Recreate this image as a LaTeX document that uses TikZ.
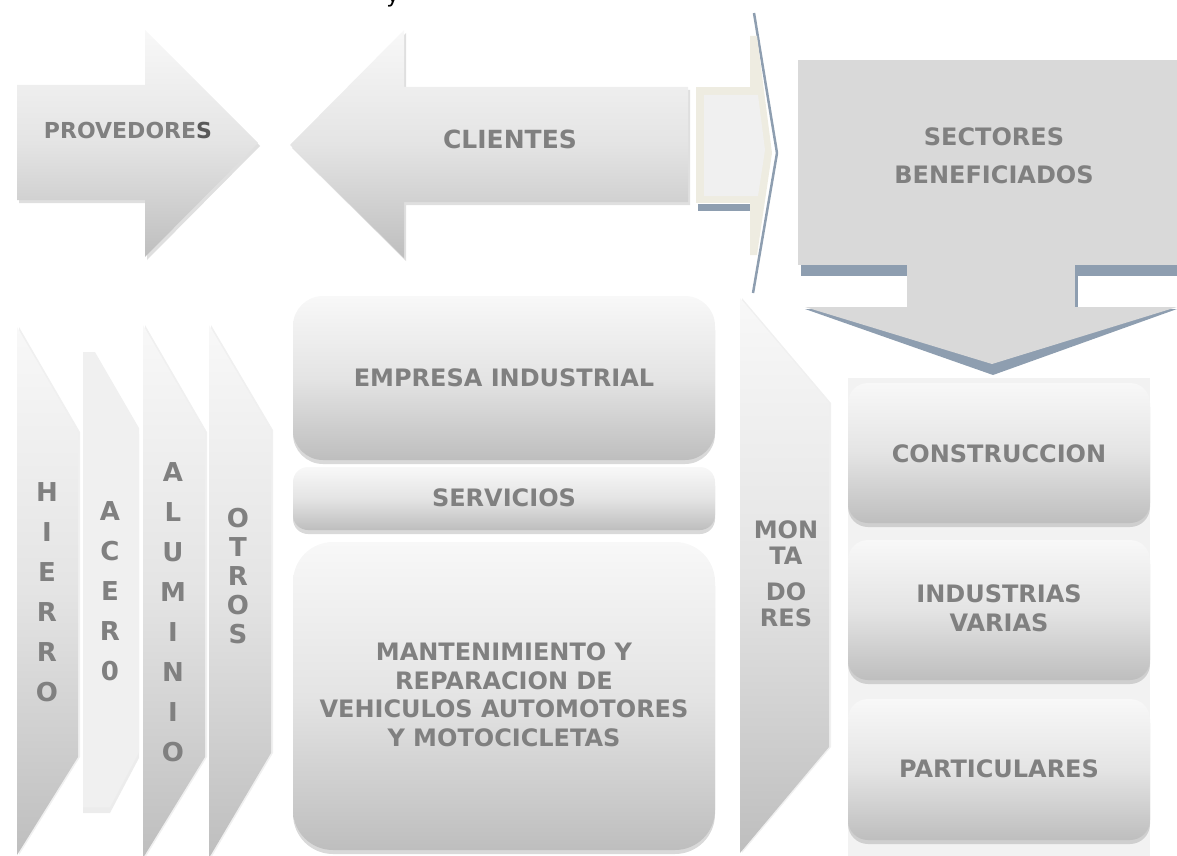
\documentclass[tikz,border=0pt]{standalone}
\usepackage{fontspec}
\setmainfont{DejaVu Sans}
\usetikzlibrary{shadows}
\definecolor{txtgray}{RGB}{128,128,128}
\definecolor{txtdark}{RGB}{89,89,89}
\definecolor{slate}{RGB}{142,158,176}
\definecolor{sectgray}{RGB}{217,217,217}
\definecolor{beige}{RGB}{238,236,225}
\definecolor{lightbg}{RGB}{242,242,242}
\definecolor{shtop}{RGB}{248,248,248}
\definecolor{shmid}{RGB}{228,228,228}
\definecolor{shbot}{RGB}{190,190,190}

\begin{document}
\begin{tikzpicture}[x=1pt, y=-1pt,
  grad/.style = {top color=shtop, bottom color=shbot, middle color=shmid},
  arrowshape/.style = {grad, drop shadow={shadow xshift=2pt, shadow yshift=-3pt, opacity=0.25}},
  strip/.style = {grad, drop shadow={shadow xshift=2pt, shadow yshift=0pt, opacity=0.12}},
  box/.style = {grad, drop shadow={shadow xshift=0pt, shadow yshift=-4pt, opacity=0.3}},
  lbl/.style = {text=txtgray, font=\bfseries\fontsize{24}{28.5}\selectfont, align=center, inner sep=0pt},
  col/.style = {text=txtgray, font=\bfseries\fontsize{26}{40}\selectfont, align=center, inner sep=0pt}]
  \useasboundingbox (0,0) rectangle (1177,856);
  \clip (0,0) rectangle (1177,856);

  \node[inner sep=0pt, anchor=base, font=\fontsize{22}{22}\selectfont] (frag) at (393,3) {y};

  \path[arrowshape] (17,85) -- (145,85) -- (145,30) -- (258,143) -- (145,257) -- (145,200) -- (17,200) -- cycle;
  \path[arrowshape] (688,87) -- (404,87) -- (404,30) -- (290,145) -- (404,258) -- (404,202) -- (688,202) -- cycle;

  \draw[slate, line width=2.5pt, line join=round] (754,13) -- (777,153) -- (753,293);
  \fill[beige] (750,36) -- (757,36) -- (772,153) -- (757,255) -- (750,255) -- cycle;
  \fill[beige] (696,87) rectangle (758,203);
  \fill[black!6] (704,95) -- (758,95) -- (765,150) -- (758,196) -- (704,196) -- cycle;
  \fill[slate] (698,204) rectangle (750,211);

  \fill[sectgray] (798,60) rectangle (1177,265);
  \fill[slate] (801,265) rectangle (907,276);
  \fill[slate] (1075,265) rectangle (1177,276);
  \fill[slate] (1075,276) rectangle (1078,307);
  \fill[sectgray] (907,265) rectangle (1075,307);
  \fill[slate] (805,309) -- (1177,309) -- (993,375) -- cycle;
  \fill[sectgray] (805,307) -- (1177,307) -- (992,364) -- cycle;

  \path[strip] (17,327) -- (78,432) -- (78,757) -- (17,855) -- cycle;
  \path[fill=black!6, drop shadow={shadow xshift=0pt, shadow yshift=-6pt, opacity=0.15}]
    (83,352) -- (95,352) -- (139,428) -- (139,752) -- (110,807) -- (83,807) -- cycle;
  \path[strip] (143,325) -- (205,432) -- (205,757) -- (143,858) -- cycle;
  \path[strip] (209,325) -- (271,430) -- (271,753) -- (209,858) -- cycle;

  \path[box, rounded corners=30pt] (293,296) rectangle (715,460);
  \path[box, rounded corners=15pt] (293,467) rectangle (715,530);
  \path[box, rounded corners=40pt] (293,542) rectangle (715,850);

  \path[strip] (740,298) -- (829,403) -- (829,747) -- (740,853) -- cycle;

  \fill[lightbg] (848,378) rectangle (1150,856);
  \path[box, rounded corners=20pt] (848,383) rectangle (1150,523);
  \path[box, rounded corners=20pt] (848,540) rectangle (1150,680);
  \path[box, rounded corners=20pt] (848,699) rectangle (1150,840);

  \node[lbl, font=\bfseries\fontsize{22}{26}\selectfont] (prov) at (128,130) {PROVEDORE{\color{txtdark}S}};
  \node[lbl, font=\bfseries\fontsize{25}{30}\selectfont] (cli) at (510,139) {CLIENTES};
  \node[lbl, font=\bfseries\fontsize{24}{38}\selectfont] (sect) at (994,156) {SECTORES\\BENEFICIADOS};

  \node[col] (hie) at (47,592) {H\\I\\E\\R\\R\\O};
  \node[col] (ace) at (110,591) {A\\C\\E\\R\\0};
  \node[col] (alu) at (173,612) {A\\L\\U\\M\\I\\N\\I\\O};
  \node[col, font=\bfseries\fontsize{26}{29}\selectfont] (otr) at (238,576) {O\\T\\R\\O\\S};

  \node[lbl] (emp) at (504,378) {EMPRESA INDUSTRIAL};
  \node[lbl] (serv) at (504,498) {SERVICIOS};
  \node[lbl] (mant) at (504,695) {MANTENIMIENTO Y\\REPARACION DE\\VEHICULOS AUTOMOTORES\\Y MOTOCICLETAS};
  \node[lbl, font=\bfseries\fontsize{24}{26}\selectfont] (mont) at (786,574) {MON\\TA\\[10pt]DO\\RES};

  \node[lbl] (cons) at (999,454) {CONSTRUCCION};
  \node[lbl, font=\bfseries\fontsize{24}{29}\selectfont] (ind) at (999,608) {INDUSTRIAS\\VARIAS};
  \node[lbl] (part) at (999,769) {PARTICULARES};
\end{tikzpicture}
\end{document}
